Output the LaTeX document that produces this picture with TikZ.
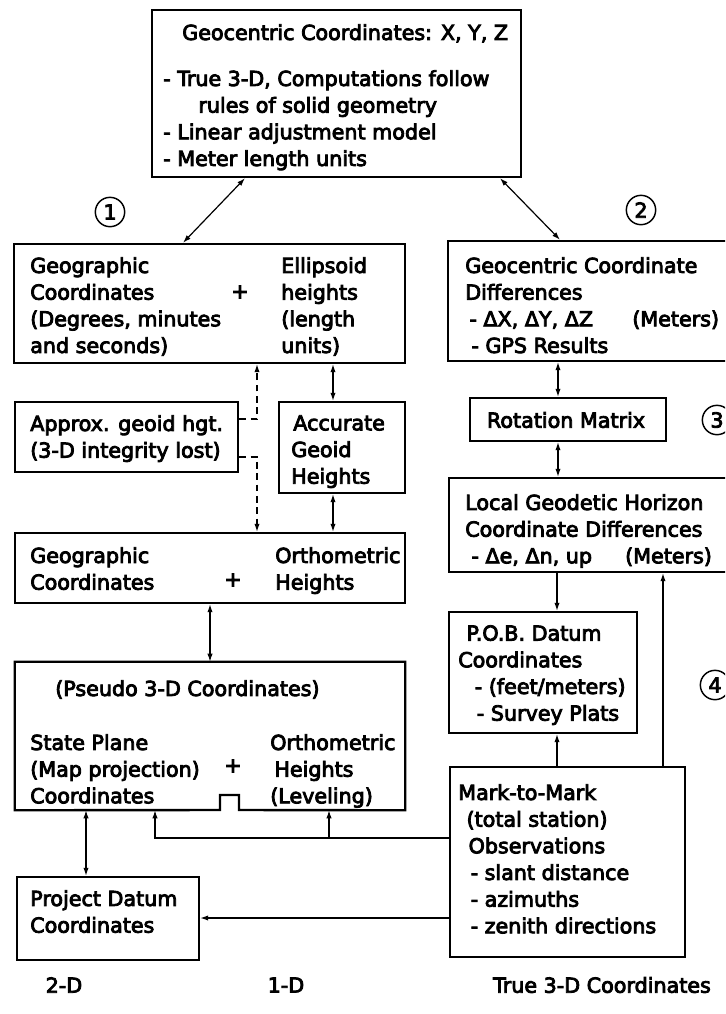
\documentclass[tikz,border=0pt]{standalone}
\usepackage{fontspec}
\setmainfont{DejaVu Sans}
\newfontfamily\dfam{DejaVu Sans}[FakeBold=4]
\usetikzlibrary{arrows.meta, fit}

\newcommand{\dfont}{\dfam\fontsize{15.5}{20}\selectfont}

\tikzset{
  blk/.style={draw, line width=1.8pt, inner sep=0pt},
  txt/.style={anchor=north west, inner sep=0pt, align=left, font=\dfont},
  num/.style={draw, circle, line width=1.1pt, minimum size=22pt, inner sep=0pt, font=\dfont},
  lnk/.style={line width=0.9pt, -{Latex[length=6pt,width=4pt]}},
  dbl/.style={line width=0.9pt, {Latex[length=6pt,width=4pt]}-{Latex[length=6pt,width=4pt]}},
  dsh/.style={lnk, dash pattern=on 5pt off 3.5pt},
}

\begin{document}
\begin{tikzpicture}[x=0.75pt,y=0.75pt,yscale=-1,xscale=1]
\useasboundingbox (0,0) rectangle (725,1014);
\clip (0,0) rectangle (725,1014);

% Geocentric box
\node[blk, fit={(152,10) (521,177)}] (geo) {};
\node[txt] (geo-a) at (182,24) {Geocentric Coordinates: X, Y, Z};
\node[txt] (geo-b) at (163,70) {- True 3-D, Computations follow\\\hspace*{1.7em}rules of solid geometry\\- Linear adjustment model\\- Meter length units};

% circled numbers
\node[num] (c1) at (110,212) {1};
\node[num] (c2) at (641,210) {2};
\node[num] (c3) at (717,420) {3};
\node[num] (c4) at (715,685) {4};

% Geographic + Ellipsoid
\node[blk, fit={(14,244) (405,363)}] (geog) {};
\node[txt] (geog-l) at (30,257) {Geographic\\Coordinates\\(Degrees, minutes\\and seconds)};
\node[txt] (geog-r) at (281,257) {Ellipsoid\\heights\\(length\\units)};
\node[font=\dfont, inner sep=0pt] (geog-p) at (240,292) {+};

% Geocentric differences
\node[blk, fit={(448,241) (745,361)}] (gcd) {};
\node[txt] (gcd-t) at (465,257) {Geocentric Coordinate\\Differences\\\hspace*{0.2em}- ΔX, ΔY, ΔZ\hspace{1.9em}(Meters)\\\hspace*{0.3em}- GPS Results};

% Rotation
\node[blk, fit={(470,398) (666,441)}] (rot) {};
\node[font=\dfont, inner sep=0pt] (rot-t) at (566,420) {Rotation Matrix};

% Local geodetic horizon
\node[blk, fit={(449,478) (745,572)}] (lgh) {};
\node[txt] (lgh-t) at (465,494) {Local Geodetic Horizon\\Coordinate Differences\\\hspace*{0.3em}- Δe, Δn, up\hspace{1.6em}(Meters)};

% Approx / Accurate
\node[blk, fit={(15,402) (238,472)}] (apx) {};
\node[txt] (apx-t) at (30,415) {Approx. geoid hgt.\\(3-D integrity lost)};
\node[blk, fit={(279,402) (405,493)}] (acc) {};
\node[txt] (acc-t) at (291,415) {\hspace*{0.1em}Accurate\\Geoid\\Heights};

% Geographic + Orthometric
\node[blk, fit={(15,533) (405,603)}] (geo2) {};
\node[txt] (geo2-l) at (30,547) {Geographic\\Coordinates};
\node[txt] (geo2-r) at (275,547) {Orthometric\\Heights};
\node[font=\dfont, inner sep=0pt] (geo2-p) at (233,580) {+};

% Pseudo 3-D
\node[inner sep=0pt, fit={(15,662) (405,810)}] (psd) {};
\draw[line width=1.8pt] (psd.north west) -- (psd.north east) -- (psd.south east) -- (239,810) -- (239,795) -- (220,795) -- (220,810) -- (psd.south west) -- cycle;
\node[txt] (psd-a) at (55,680) {(Pseudo 3-D Coordinates)};
\node[txt] (psd-l) at (30,734) {State Plane\\(Map projection)\\Coordinates};
\node[txt] (psd-r) at (270,734) {Orthometric\\\hspace*{0.2em}Heights\\(Leveling)};
\node[font=\dfont, inner sep=0pt] (psd-p) at (233,766) {+};

% P.O.B.
\node[blk, fit={(449,612) (637,733)}] (pob) {};
\node[txt] (pob-t) at (458,625) {\hspace*{0.4em}P.O.B. Datum\\Coordinates\\\hspace*{0.8em}- (feet/meters)\\\hspace*{0.9em}- Survey Plats};

% Mark-to-Mark
\node[blk, fit={(450,767) (685,957)}] (mtm) {};
\node[txt] (mtm-t) at (458,784) {Mark-to-Mark\\\hspace*{0.4em}(total station)\\\hspace*{0.5em}Observations\\\hspace*{0.6em}- slant distance\\\hspace*{0.6em}- azimuths\\\hspace*{0.6em}- zenith directions};

% Project datum
\node[blk, fit={(17,877) (199,960)}] (pdc) {};
\node[txt] (pdc-t) at (30,890) {Project Datum\\Coordinates};

% bottom labels
\node[font=\dfont] (d2) at (64,985) {2-D};
\node[font=\dfont] (d1) at (286,985) {1-D};
\node[font=\dfont] (d3) at (602,985) {True 3-D Coordinates};

% connectors
\draw[dbl] (geo.south -| 245,0) -- (geog.north -| 183,0);
\draw[dbl] (geo.south -| 500,0) -- (gcd.north -| 560,0);
\draw[dbl] (gcd.south -| 558,0) -- (rot.north -| 558,0);
\draw[dbl] (rot.south -| 558,0) -- (lgh.north -| 558,0);
\draw[lnk] (lgh.south -| 557,0) -- (pob.north -| 557,0);
\draw[lnk] (mtm.north -| 557,0) -- (pob.south -| 557,0);
\draw[lnk] (mtm.north -| 663,0) -- (lgh.south -| 663,0);
\draw[lnk] (mtm.west |- 0,918) -- (pdc.east |- 0,918);
\draw[lnk] (mtm.west |- 0,838) -| (psd.south -| 155,0);
\coordinate (jn) at (329,838);
\draw[lnk] (jn) -- (psd.south -| jn);
\draw[dbl] (psd.south -| 86,0) -- (pdc.north -| 86,0);
\draw[dbl] (geo2.south -| 210,0) -- (psd.north -| 210,0);
\draw[dbl] (geog.south -| 333,0) -- (acc.north -| 333,0);
\draw[dbl] (acc.south -| 333,0) -- (geo2.north -| 333,0);
\draw[dsh] (apx.east |- 0,419) -| (geog.south -| 257,0);
\draw[dsh] (apx.east |- 0,457) -| (geo2.north -| 257,0);

\end{tikzpicture}
\end{document}
